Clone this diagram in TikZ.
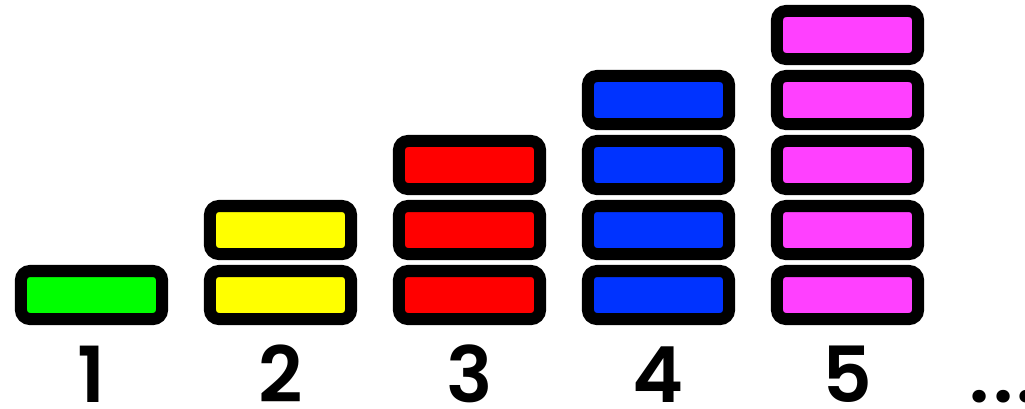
\documentclass[tikz,border=0pt]{standalone}
\usepackage{fontspec}
\setmainfont{Poppins}
\newfontfamily\numfont{Poppins SemiBold}
\usepackage{tikz}

\definecolor{brickgreen}{HTML}{00FF00}
\definecolor{brickyellow}{HTML}{FFFF00}
\definecolor{brickred}{HTML}{FF0000}
\definecolor{brickblue}{HTML}{0033FF}
\definecolor{brickpink}{HTML}{FF40FF}

\begin{document}
\begin{tikzpicture}[x=0.01cm,y=0.01cm,
	brick/.style={draw=black,line width=0.12cm,rounded corners=0.09cm,
		minimum width=1.41cm,minimum height=0.48cm,inner sep=0pt,outer sep=0pt},
	num/.style={anchor=base,inner sep=0pt,font=\fontsize{22}{22}\selectfont\numfont}]
		\useasboundingbox (0,0) rectangle (1025,408);
		\foreach \n/\c in {1/brickgreen,2/brickyellow,3/brickred,4/brickblue,5/brickpink} {
			\foreach \k in {1,...,\n} {
				\node[brick,fill=\c] (b\n-\k) at ({91.5+(\n-1)*189},{113+(\k-1)*65}) {};
			}
			\node[num] (n\n) at ({91.5+(\n-1)*189},6) {\n};
		}
		\node[num,anchor=base west] (dots) at (969,6) {.\hspace{0.035cm}.\hspace{0.035cm}.};
		\end{tikzpicture}
\end{document}
